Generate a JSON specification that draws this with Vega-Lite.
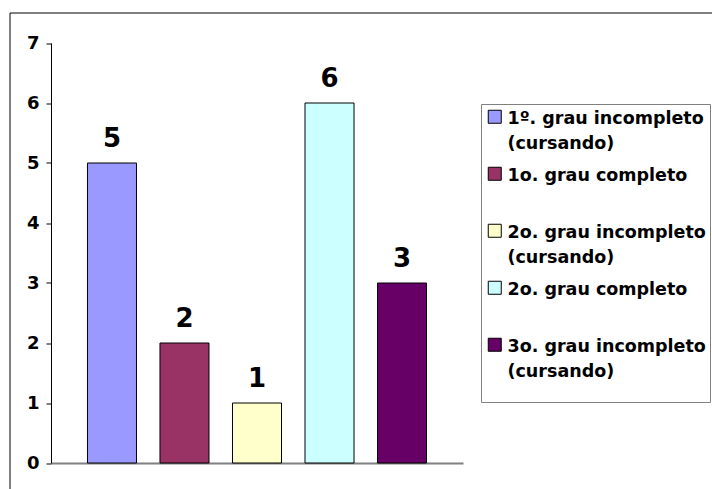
{
  "$schema": "https://vega.github.io/schema/vega-lite/v6.json",
  "width": 710,
  "height": 482,
  "autosize": {"type": "none"},
  "padding": {"left": 9.5, "top": 12.5, "right": -7.5, "bottom": -5.5},
  "background": "white",
  "config": {
    "view": {"stroke": "black", "strokeWidth": 1},
    "font": "DejaVu Sans"
  },
  "data": {
    "values": [
      {"ordem": 1, "categoria": "1º. grau incompleto (cursando)", "valor": 5},
      {"ordem": 2, "categoria": "1o. grau completo", "valor": 2},
      {"ordem": 3, "categoria": "2o. grau incompleto (cursando)", "valor": 1},
      {"ordem": 4, "categoria": "2o. grau completo", "valor": 6},
      {"ordem": 5, "categoria": "3o. grau incompleto (cursando)", "valor": 3}
    ]
  },
  "encoding": {
    "x": {
      "field": "categoria",
      "type": "nominal",
      "sort": {"field": "ordem"},
      "scale": {"range": [41.5, 453.5], "paddingInner": 0.324, "paddingOuter": 0.503},
      "axis": {
        "title": null,
        "labels": false,
        "ticks": false,
        "domainColor": "#808080",
        "domainWidth": 2,
        "offset": -31.5
      }
    },
    "y": {
      "field": "valor",
      "type": "quantitative",
      "scale": {"domain": [0, 7], "nice": false, "range": [450.5, 30.5]},
      "axis": {
        "title": null,
        "grid": false,
        "values": [0, 1, 2, 3, 4, 5, 6, 7],
        "format": "d",
        "offset": -41.5,
        "domainColor": "black",
        "domainWidth": 1,
        "tickColor": "black",
        "tickSize": 5,
        "tickWidth": 1,
        "labelFont": "DejaVu Sans",
        "labelFontSize": 18,
        "labelFontWeight": "bold",
        "labelColor": "black",
        "labelPadding": 7
      }
    }
  },
  "layer": [
    {
      "mark": {"type": "bar", "stroke": "black", "strokeWidth": 1},
      "encoding": {
        "fill": {
          "field": "categoria",
          "type": "nominal",
          "sort": {"field": "ordem"},
          "scale": {
            "domain": ["1º. grau incompleto (cursando)", "1o. grau completo", "2o. grau incompleto (cursando)", "2o. grau completo", "3o. grau incompleto (cursando)"],
            "range": ["#9999FF", "#993366", "#FFFFCC", "#CCFFFF", "#660066"]
          },
          "legend": {
            "orient": "none",
            "legendX": 471.5,
            "legendY": 91.5,
            "title": " ",
            "titleOrient": "bottom",
            "titleFontSize": 14,
            "titlePadding": 4,
            "strokeColor": "#808080",
            "padding": 4,
            "symbolType": "square",
            "symbolSize": 169,
            "symbolOffset": 1,
            "symbolStrokeColor": "black",
            "symbolStrokeWidth": 1,
            "symbolOpacity": 1,
            "labelFont": "DejaVu Sans",
            "labelFontSize": 17.5,
            "labelFontWeight": "bold",
            "labelColor": "black",
            "labelOffset": 4,
            "labelLimit": 400,
            "labelBaseline": "top",
            "rowPadding": 12,
            "labelExpr": "indexof(datum.label, ' (') > 0 ? [substring(datum.label, 0, indexof(datum.label, ' (')), substring(datum.label, indexof(datum.label, ' (') + 1)] : [datum.label, ' ']",
            "encode": {
              "labels": {"update": {"dy": {"value": -7}, "lineHeight": {"value": 25}}}
            }
          }
        }
      }
    },
    {
      "mark": {"type": "text", "baseline": "alphabetic", "dy": -16, "fontSize": 26, "fontWeight": "bold", "font": "DejaVu Sans", "color": "black"},
      "encoding": {
        "text": {"field": "valor", "type": "quantitative"}
      }
    }
  ]
}
